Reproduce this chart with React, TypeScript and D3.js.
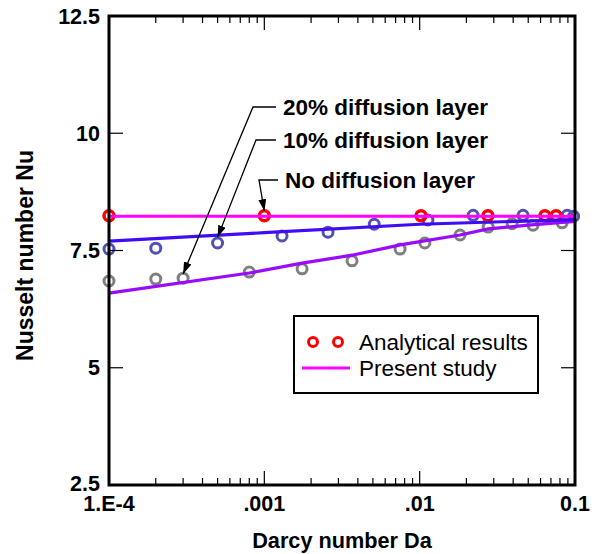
import React from "react";
import * as d3 from "d3";

// ---- data ----
const xTickValues = [1e-4, 1e-3, 1e-2, 1e-1];
const xTickLabels = ["1.E-4", ".001", ".01", "0.1"];
const yTickValues = [2.5, 5, 7.5, 10, 12.5];
const yTickLabels = ["2.5", "5", "7.5", "10", "12.5"];

// Analytical results (circles)
const noLayerDa = [1e-4, 1e-3, 0.0102, 0.0275, 0.064, 0.0755];
const noLayerNu = [8.24, 8.24, 8.24, 8.24, 8.24, 8.24];
const tenDa = [1e-4, 2e-4, 5e-4, 1.3e-3, 2.57e-3, 5.1e-3, 0.0113, 0.0221, 0.0463, 0.089, 0.098];
const tenNu = [7.53, 7.55, 7.66, 7.81, 7.89, 8.06, 8.15, 8.25, 8.25, 8.25, 8.23];
const twentyDa = [1e-4, 2e-4, 3e-4, 8e-4, 1.75e-3, 3.67e-3, 7.48e-3, 0.0108, 0.0182, 0.0276, 0.0394, 0.0537, 0.0826];
const twentyNu = [6.85, 6.89, 6.91, 7.04, 7.11, 7.28, 7.53, 7.66, 7.83, 8.0, 8.07, 8.04, 8.09];

// Present study (lines)
const lineNoDa = [1e-4, 0.1];
const lineNoNu = [8.23, 8.23];
const lineTenDa = [1e-4, 1e-3, 1e-2, 0.1];
const lineTenNu = [7.7, 7.88, 8.06, 8.16];
const lineTwentyDa = [1e-4, 8e-4, 1.75e-3, 3.67e-3, 7.5e-3, 0.0182, 0.0276, 0.05, 0.1];
const lineTwentyNu = [6.59, 7.02, 7.23, 7.4, 7.62, 7.83, 7.96, 8.04, 8.12];

// annotations: label, target point (Da, Nu)
const annLabels = ["20% diffusion layer", "10% diffusion layer", "No diffusion layer"];
const annTargetDa = [3e-4, 5e-4, 1e-3];
const annTargetNu = [7.0, 7.78, 8.34];

const W = 601, H = 554;
const L = 109, R = 575, T = 16, B = 485;
const FONT = "'Liberation Sans', Arial, sans-serif";

export default function App() {
  const x = d3.scaleLog().domain([1e-4, 0.1]).range([L, R]);
  const y = d3.scaleLinear().domain([2.5, 12.5]).range([B, T]);

  const minor: number[] = [];
  for (let e = -4; e < -1; e++) {
    for (let k = 2; k <= 9; k++) minor.push(k * Math.pow(10, e));
  }

  const line = d3
    .line<[number, number]>()
    .x((d) => x(d[0]))
    .y((d) => y(d[1]));
  const zip = (a: number[], b: number[]) => a.map((v, i) => [v, b[i]] as [number, number]);

  // annotation label positions (text baselines)
  const annTextX = [283, 283, 285];
  const annTextY = [115, 148, 188];
  const annElbowX = [253, 256, 259];

  return (
    <svg
      width={W}
      height={H}
      style={{ position: "absolute", left: 0, top: 0, background: "#fff" }}
      fontFamily={FONT}
    >
      <defs>
        <marker id="arr" viewBox="0 0 12 8" refX="12" refY="4" markerWidth="12" markerHeight="8" markerUnits="userSpaceOnUse" orient="auto">
          <path d="M0,0 L12,4 L0,8 Z" fill="#000" />
        </marker>
      </defs>

      {/* circles (analytical) */}
      <g fill="none" strokeWidth={3}>
        {tenDa.map((d, i) => (
          <circle key={"b" + i} cx={x(d)} cy={y(tenNu[i])} r={5} stroke="#5252b0" />
        ))}
        {twentyDa.map((d, i) => (
          <circle key={"g" + i} cx={x(d)} cy={y(twentyNu[i])} r={5} stroke="#7f7f7f" />
        ))}
        {noLayerDa.map((d, i) => (
          <circle key={"r" + i} cx={x(d)} cy={y(noLayerNu[i])} r={5} stroke="#ff0000" strokeWidth={3.5} />
        ))}
      </g>

      {/* lines (present study) */}
      <g fill="none" strokeWidth={3.2}>
        <path d={line(zip(lineTwentyDa, lineTwentyNu)) || ""} stroke="#9a0aff" />
        <path d={line(zip(lineTenDa, lineTenNu)) || ""} stroke="#3f0cf5" />
        <path d={line(zip(lineNoDa, lineNoNu)) || ""} stroke="#ff00ff" />
      </g>

      {/* frame */}
      <rect x={L} y={T} width={R - L} height={B - T} fill="none" stroke="#000" strokeWidth={3} />

      {/* ticks */}
      <g stroke="#000" strokeWidth={1.2}>
        {xTickValues.slice(1, 3).map((v, i) => (
          <g key={"xm" + i}>
            <line x1={x(v)} x2={x(v)} y1={B} y2={B - 14} />
            <line x1={x(v)} x2={x(v)} y1={T} y2={T + 14} />
          </g>
        ))}
        {minor.map((v, i) => (
          <g key={"xn" + i}>
            <line x1={x(v)} x2={x(v)} y1={B} y2={B - 7} />
            <line x1={x(v)} x2={x(v)} y1={T} y2={T + 7} />
          </g>
        ))}
        {yTickValues.slice(1, 4).map((v, i) => (
          <g key={"ym" + i}>
            <line x1={L} x2={L + 14} y1={y(v)} y2={y(v)} />
            <line x1={R} x2={R - 14} y1={y(v)} y2={y(v)} />
          </g>
        ))}
      </g>

      {/* tick labels */}
      <g fontWeight="bold" fontSize={21.5} fill="#000">
        {xTickValues.map((v, i) => (
          <text key={"xl" + i} x={x(v)} y={511} textAnchor="middle">
            {xTickLabels[i]}
          </text>
        ))}
        {yTickValues.map((v, i) => (
          <text key={"yl" + i} x={100} y={y(v) + (v === 2.5 ? 6 : 7.5)} textAnchor="end">
            {yTickLabels[i]}
          </text>
        ))}
      </g>

      {/* axis titles */}
      <text x={(L + R) / 2} y={548} textAnchor="middle" fontWeight="bold" fontSize={21.7}>
        Darcy number Da
      </text>
      <text
        transform={`translate(33,${(T + B) / 2 + 5}) rotate(-90)`}
        textAnchor="middle"
        fontWeight="bold"
        fontSize={23}
      >
        Nusselt number Nu
      </text>

      {/* annotations */}
      {annLabels.map((lab, i) => (
        <g key={"a" + i}>
          <polyline
            points={`${annTextX[i] - 7},${annTextY[i] - 8} ${annElbowX[i]},${annTextY[i] - 8} ${x(annTargetDa[i])},${y(annTargetNu[i])}`}
            fill="none"
            stroke="#000"
            strokeWidth={1.3}
            markerEnd="url(#arr)"
          />
          <text x={annTextX[i]} y={annTextY[i]} fontWeight="bold" fontSize={22.5}>
            {lab}
          </text>
        </g>
      ))}

      {/* legend */}
      <rect x={294} y={316} width={244} height={77} fill="#fff" stroke="#000" strokeWidth={2} />
      <circle cx={313} cy={342} r={4.5} fill="none" stroke="#ff0000" strokeWidth={3} />
      <circle cx={338} cy={342} r={4.5} fill="none" stroke="#ff0000" strokeWidth={3} />
      <text x={359} y={350} fontSize={22.5}>Analytical results</text>
      <line x1={302} x2={350} y1={368} y2={368} stroke="#ff00ff" strokeWidth={3} />
      <text x={359} y={376} fontSize={22.5}>Present study</text>
    </svg>
  );
}
